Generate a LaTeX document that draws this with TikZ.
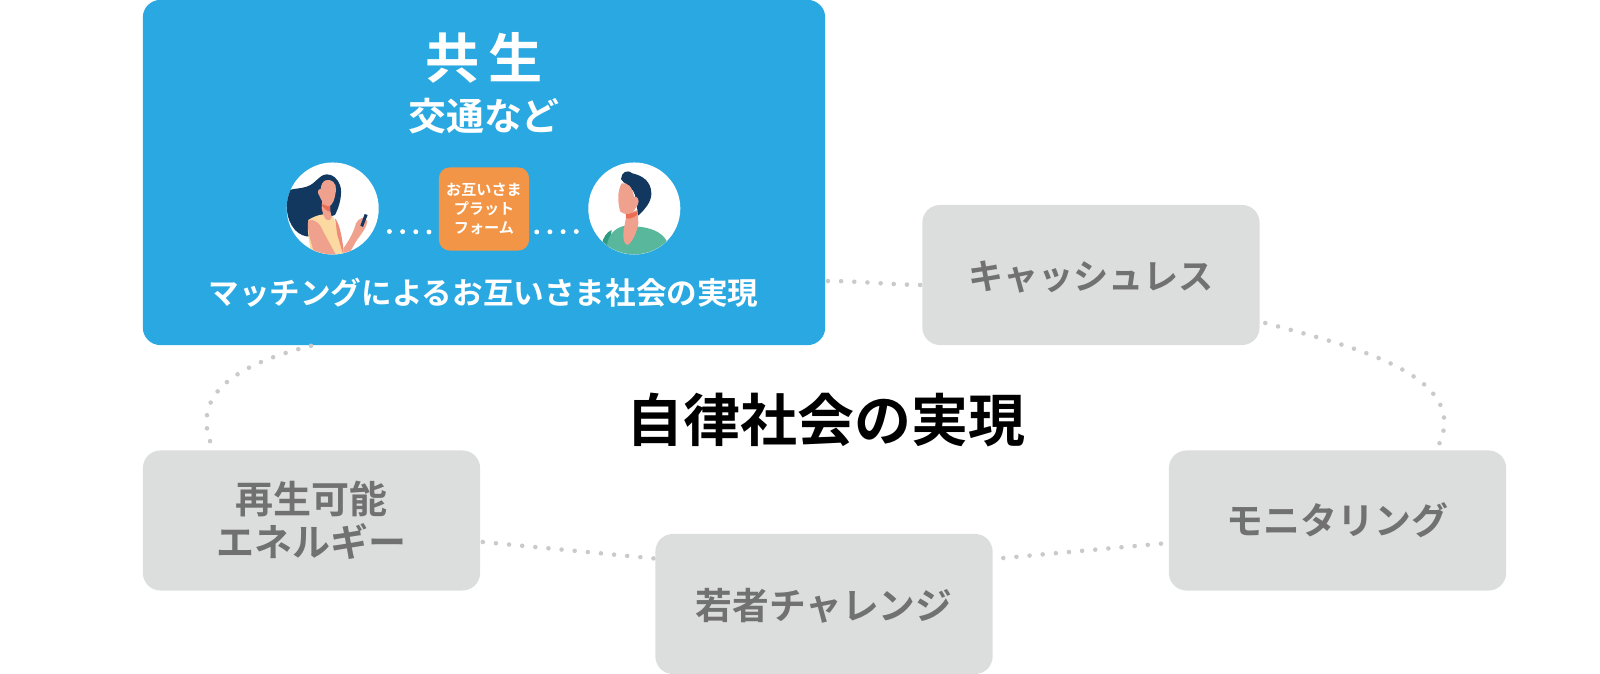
\documentclass[tikz,border=0pt]{standalone}
\usepackage{fontspec}
\setmainfont{Noto Sans CJK JP}[BoldFont={Noto Sans CJK JP Bold}]
\usepackage{tikz}
\usetikzlibrary{positioning}
\definecolor{kyoblue}{HTML}{29A8E2}
\definecolor{tilegray}{HTML}{DCDDDD}
\definecolor{tiletext}{HTML}{727171}
\definecolor{dotgray}{HTML}{C9CACA}
\definecolor{platorange}{HTML}{F29546}
\definecolor{hairnavy}{HTML}{12385F}
\definecolor{skin}{HTML}{F0A18E}
\definecolor{skindark}{HTML}{EE8C7A}
\definecolor{collar}{HTML}{EC6D55}
\definecolor{shirt}{HTML}{59B79C}
\definecolor{shirtdark}{HTML}{2E9B80}
\definecolor{topyellow}{HTML}{FBD9A0}
\tikzset{
	tile/.style={fill=tilegray, rounded corners=5pt, minimum width=3.37cm, minimum height=1.4cm, align=center, text=tiletext},
	dotline/.style={draw=dotgray, line width=1.3pt, line cap=round, dash pattern=on 0pt off 3.75pt},
	whitedots/.style={draw=white, line width=1.4pt, line cap=round, dash pattern=on 0pt off 3.75pt},
}
\begin{document}
\begin{tikzpicture}[x=0.01cm, y=-0.01cm]
	\useasboundingbox (0, 0) rectangle (1600, 674);
	%%%%% BOXES %%%%%
	\node[fill=kyoblue, rounded corners=5pt, minimum width=6.82cm, minimum height=3.45cm] (kyosei) at (484, 172.5) {};
	\node[tile, text depth=-3pt, font=\fontsize{10}{13}\selectfont\bfseries] (cashless) at (1091, 275) {キャッシュレス};
	\node[tile, font=\fontsize{10.5}{13}\selectfont\bfseries] (monitor) at (1337.5, 520.5) {モニタリング};
	\node[tile, text depth=-4pt, font=\fontsize{10.45}{13}\selectfont\bfseries] (wakamono) at (824, 604) {若者チャレンジ};
	\node[tile, font=\fontsize{10.8}{12.2}\selectfont\bfseries] (saisei) at (311.5, 520.5) {再生可能\\エネルギー};
	\node[font=\fontsize{16.2}{18}\selectfont\bfseries, text=black] (jiritsu) at (826, 420) {自律社会の実現};
	%%%%% TEXTS IN THE BLUE BOX %%%%%
	\node[text=white, font=\fontsize{15.4}{18}\selectfont\bfseries] (kyotitle) at (484, 58) {共\,生};
	\node[text=white, font=\fontsize{10.8}{13}\selectfont\bfseries] (kyosub) at (484, 116) {交通など};
	\node[text=white, font=\fontsize{8.7}{11}\selectfont\bfseries] (kyofoot) at (483.5, 293) {マッチングによるお互いさま社会の実現};
	\node[fill=platorange, rounded corners=3pt, minimum width=0.9cm, minimum height=0.83cm, align=center, text=white, inner sep=0pt, font=\fontsize{4.3}{5.4}\selectfont\bfseries] (platform) at (484, 209) {お互いさま\\プラット\\フォーム};
	%%%%% WOMAN %%%%%
	\node[circle, fill=white, minimum size=0.92cm, inner sep=0pt] (woman) at (332.7, 208.5) {};
	\begin{scope}[shift={(280, 155)}, scale=1/3]
		\clip (158, 160) circle (138);
		\fill[hairnavy] (140, 58) .. controls (115, 60) and (110, 85) .. (80, 95) .. controls (60, 102) and (40, 100) .. (30, 105) .. controls (15, 140) and (15, 190) .. (45, 225) .. controls (60, 240) and (75, 245) .. (90, 245) -- (125, 190) -- (150, 185) -- (165, 180) .. controls (180, 150) and (188, 115) .. (180, 90) .. controls (172, 70) and (158, 58) .. (140, 58) -- cycle;
		\fill[topyellow] (85, 195) .. controls (100, 185) and (115, 180) .. (130, 178) -- (160, 185) .. controls (172, 220) and (180, 260) .. (190, 300) -- (95, 300) .. controls (88, 265) and (80, 225) .. (85, 195) -- cycle;
		\fill[skin] (85, 197) .. controls (105, 190) and (120, 205) .. (130, 230) -- (168, 300) -- (105, 300) .. controls (95, 270) and (80, 225) .. (85, 197) -- cycle;
		\fill[skin] (127, 130) -- (125, 160) -- (130, 180) .. controls (135, 195) and (150, 205) .. (155, 185) -- (150, 165) -- (150, 140) -- cycle;
		\fill[collar] (125, 148) -- (150, 150) -- (150, 170) .. controls (140, 168) and (130, 160) .. (125, 148) -- cycle;
		\fill[skin] (136, 76) .. controls (155, 70) and (170, 85) .. (168, 105) .. controls (165, 130) and (158, 154) .. (145, 154) .. controls (130, 152) and (124, 135) .. (118, 122) .. controls (110, 112) and (114, 102) .. (122, 102) .. controls (123, 90) and (128, 80) .. (136, 76) -- cycle;
		\fill[skindark] (165, 190) .. controls (178, 205) and (185, 240) .. (190, 280) -- (190, 300) -- (172, 240) -- cycle;
		\fill[skin] (190, 300) -- (190, 280) .. controls (205, 260) and (222, 230) .. (228, 205) .. controls (235, 190) and (255, 180) .. (262, 200) .. controls (258, 225) and (235, 245) .. (222, 270) -- (205, 300) -- cycle;
		\fill[hairnavy] (254, 177) -- (263, 180) -- (249, 216) -- (241, 212) -- cycle;
	\end{scope}
	%%%%% MAN %%%%%
	\node[circle, fill=white, minimum size=0.92cm, inner sep=0pt] (man) at (634.3, 208.5) {};
	\begin{scope}[shift={(585, 155)}, scale=1/3]
		\clip (148, 160) circle (138);
		\fill[shirtdark] (50, 270) .. controls (55, 245) and (65, 232) .. (80, 225) -- (70, 300) -- (50, 300) -- cycle;
		\fill[shirt] (66, 270) .. controls (70, 240) and (90, 218) .. (120, 212) -- (160, 215) .. controls (195, 218) and (230, 230) .. (245, 258) -- (245, 310) -- (60, 310) -- cycle;
		\fill[skin] (125, 175) -- (158, 165) -- (160, 205) .. controls (155, 235) and (140, 265) .. (127, 270) .. controls (115, 268) and (112, 240) .. (118, 215) -- cycle;
		\fill[hairnavy] (108, 72) .. controls (110, 52) and (125, 42) .. (142, 55) .. controls (172, 62) and (198, 78) .. (199, 115) .. controls (200, 140) and (180, 162) .. (160, 182) -- (150, 120) .. controls (140, 90) and (115, 88) .. (108, 72) -- cycle;
		\fill[collar] (122, 178) -- (158, 170) -- (156, 180) .. controls (145, 190) and (133, 192) .. (124, 190) -- cycle;
		\fill[skin] (110, 85) .. controls (125, 82) and (142, 92) .. (147, 125) .. controls (156, 122) and (166, 135) .. (158, 150) .. controls (154, 158) and (150, 160) .. (148, 165) .. controls (142, 178) and (120, 182) .. (106, 170) .. controls (98, 145) and (96, 110) .. (110, 85) -- cycle;
	\end{scope}
	%%%%% CONNECTORS %%%%%
	\draw[whitedots] ([shift={(10, 23)}]woman.east) -- ([shift={(-7, 23)}]platform.west);
	\draw[whitedots] ([shift={(7, 23)}]platform.east) -- ([shift={(-10, 23)}]man.west);
	\draw[dotline] ([shift={(2, 108.5)}]kyosei.east) .. controls +(30, 0) and +(-30, 0) .. ([shift={(3, 10)}]cashless.west);
	\draw[dotline] ([shift={(5, 48)}]cashless.east) .. controls (1345, 345) and (1482, 375) .. ([shift={(97, 3)}]monitor.north);
	\draw[dotline] ([shift={(-173, 0)}]kyosei.south) .. controls (235, 365) and (188, 395) .. ([shift={(-98, 0)}]saisei.north);
	\draw[dotline] ([shift={(2, 21.5)}]saisei.east) -- ([shift={(5, -45)}]wakamono.west);
	\draw[dotline] ([shift={(10, -46)}]wakamono.east) -- ([shift={(0, 22.5)}]monitor.west);
\end{tikzpicture}
\end{document}
